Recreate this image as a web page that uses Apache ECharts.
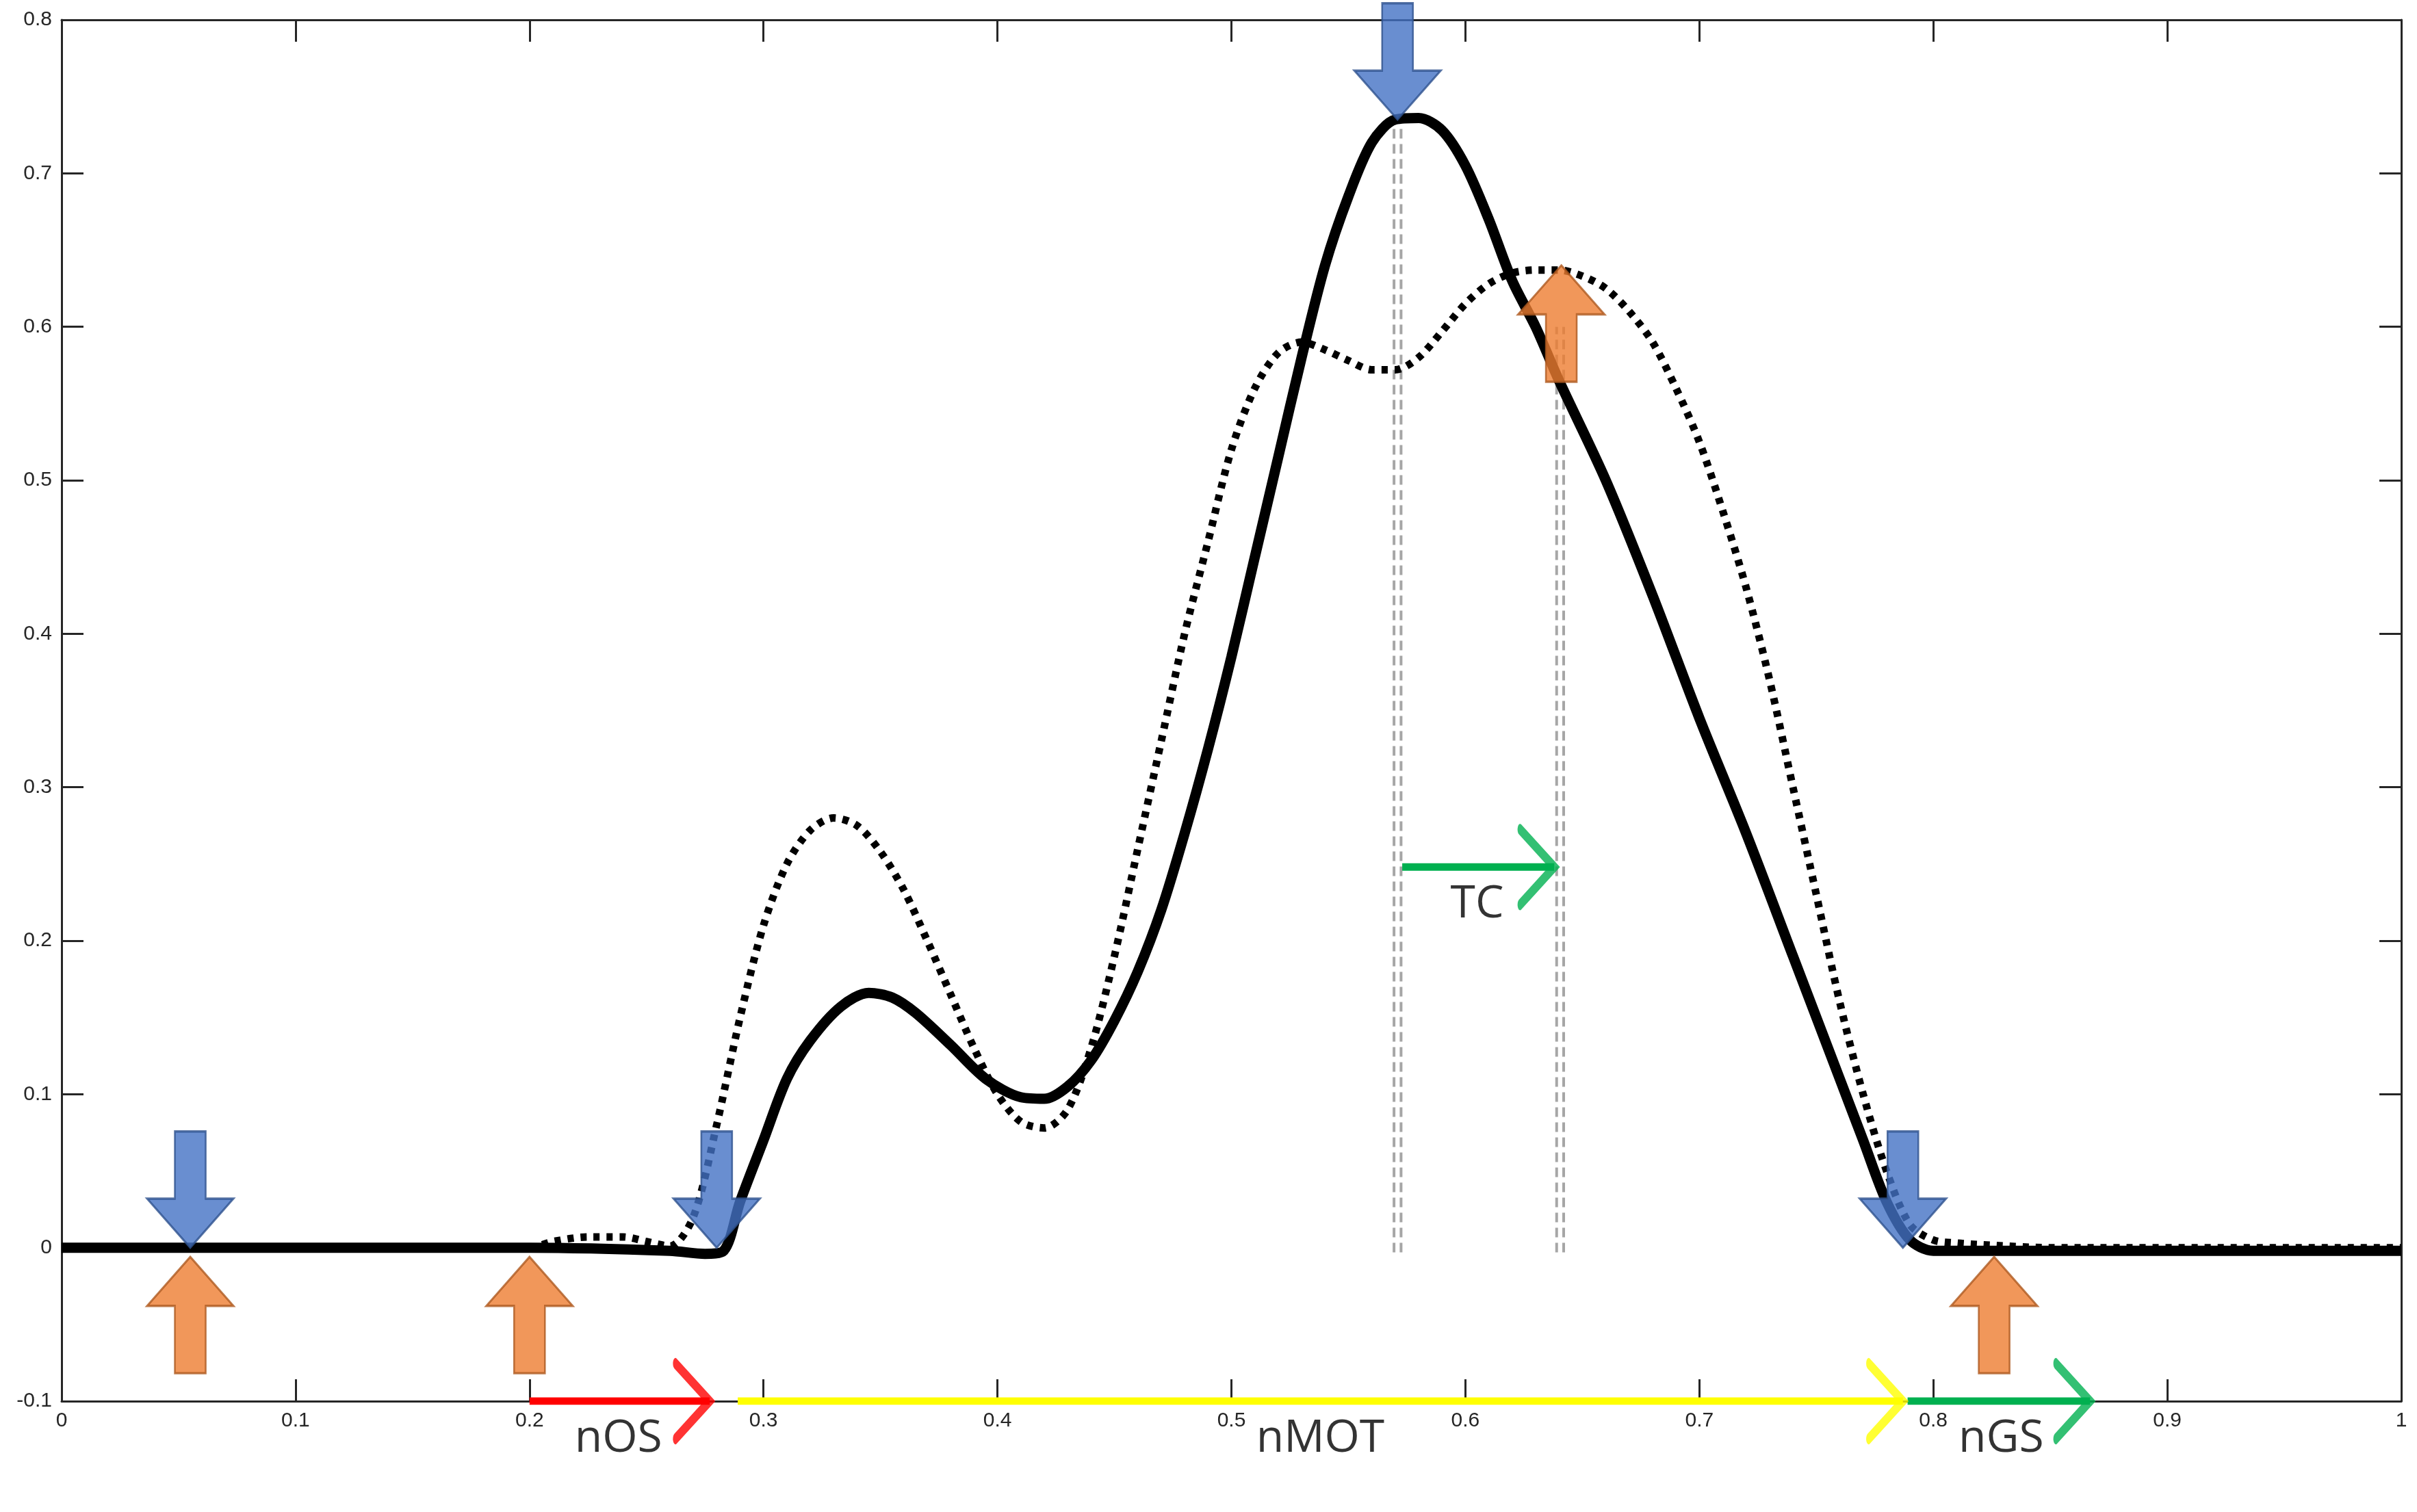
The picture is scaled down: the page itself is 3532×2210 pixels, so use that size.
<!DOCTYPE html>
<html><head><meta charset="utf-8">
<script src="https://cdn.jsdelivr.net/npm/echarts@6/dist/echarts.min.js"></script>
<style>html,body{margin:0;background:#fff}#c{width:3532px;height:2210px}</style>
</head><body><div id="c"></div>
<script>
// solid curve
const solidX = [0, 0.2, 0.26, 0.275, 0.283, 0.29, 0.3, 0.31, 0.32, 0.333, 0.345, 0.355, 0.365, 0.38, 0.395, 0.41, 0.42, 0.43, 0.44, 0.45, 0.46, 0.47, 0.48, 0.49, 0.5, 0.51, 0.52, 0.53, 0.54, 0.55, 0.56, 0.57, 0.58, 0.59, 0.6, 0.61, 0.62, 0.63, 0.64, 0.66, 0.68, 0.7, 0.72, 0.74, 0.76, 0.77, 0.78, 0.79, 0.8, 1];
const solidY = [0, 0, -0.002, -0.004, -0.002, 0.03, 0.07, 0.11, 0.135, 0.157, 0.166, 0.163, 0.153, 0.132, 0.11, 0.098, 0.097, 0.105, 0.122, 0.148, 0.18, 0.22, 0.27, 0.325, 0.385, 0.45, 0.515, 0.58, 0.64, 0.685, 0.72, 0.735, 0.736, 0.728, 0.705, 0.67, 0.63, 0.6, 0.565, 0.5, 0.425, 0.345, 0.27, 0.19, 0.11, 0.07, 0.03, 0.005, -0.002, -0.002];
// dotted curve
const dotX = [0, 0.2, 0.21, 0.225, 0.24, 0.25, 0.26, 0.27, 0.28, 0.29, 0.3, 0.31, 0.32, 0.33, 0.34, 0.35, 0.36, 0.37, 0.38, 0.39, 0.4, 0.41, 0.42, 0.43, 0.44, 0.45, 0.46, 0.47, 0.48, 0.49, 0.5, 0.51, 0.52, 0.53, 0.54, 0.55, 0.56, 0.57, 0.58, 0.59, 0.6, 0.61, 0.62, 0.63, 0.64, 0.65, 0.66, 0.67, 0.68, 0.69, 0.7, 0.71, 0.72, 0.73, 0.74, 0.75, 0.76, 0.77, 0.78, 0.79, 0.8, 0.81, 0.82, 0.85, 1];
const dotY = [0, 0, 0.004, 0.007, 0.007, 0.004, 0.001, 0.02, 0.08, 0.15, 0.21, 0.25, 0.272, 0.28, 0.275, 0.258, 0.233, 0.2, 0.165, 0.13, 0.1, 0.082, 0.078, 0.09, 0.13, 0.19, 0.26, 0.33, 0.4, 0.46, 0.52, 0.56, 0.583, 0.59, 0.585, 0.578, 0.572, 0.572, 0.58, 0.597, 0.615, 0.628, 0.635, 0.637, 0.637, 0.633, 0.625, 0.61, 0.59, 0.56, 0.525, 0.48, 0.43, 0.37, 0.3, 0.23, 0.16, 0.1, 0.05, 0.015, 0.005, 0.003, 0.002, 0, 0];
// marker positions
const blueDown = [[0.055, 0], [0.28, 0], [0.571, 0.735], [0.787, 0]];
const orangeUp = [[0.055, -0.006], [0.2, -0.006], [0.641, 0.64], [0.826, -0.006]];
const dashLines = [[0.5695, 0.735], [0.5725, 0.735], [0.639, 0.6], [0.642, 0.6]];
const spans = [
  { from: 0.2, to: 0.277, y: -0.1, color: '#ff0000' },
  { from: 0.289, to: 0.787, y: -0.1, color: '#ffff00' },
  { from: 0.789, to: 0.867, y: -0.1, color: '#00b050' },
  { from: 0.573, to: 0.638, y: 0.248, color: '#00b050' }
];
const labels = [
  { name: 'nOS', x: 0.238, y: -0.1 },
  { name: 'nMOT', x: 0.538, y: -0.1 },
  { name: 'nGS', x: 0.829, y: -0.1 },
  { name: 'TC', x: 0.605, y: 0.248 }
];

const zip = (xs, ys) => xs.map((x, i) => [x, ys[i]]);
const arrowDown = 'path://M18,0 L38,0 L38,44 L56,44 L28,76 L0,44 L18,44 Z';
const arrowUp = 'path://M28,0 L56,32 L38,32 L38,76 L18,76 L18,32 L0,32 Z';
const chevron = 'path://M0,0 L10,10 L0,20';

const series = [];
dashLines.forEach(d => series.push({
  type: 'line', data: [[d[0], -0.003], [d[0], d[1]]], symbol: 'none', silent: true,
  lineStyle: { color: '#a6a6a6', width: 4, type: [14, 8] }, z: 1
}));
series.push({ type: 'line', data: zip(dotX, dotY), symbol: 'none', smooth: 0.3,
  lineStyle: { color: '#000', width: 11, type: [9, 10], cap: 'butt' }, z: 2 });
series.push({ type: 'line', data: zip(solidX, solidY), symbol: 'none', smooth: 0.3,
  lineStyle: { color: '#000', width: 15 }, z: 3 });
spans.forEach(s => {
  series.push({ type: 'line', data: [[s.from, s.y], [s.to, s.y]], symbol: 'none',
    lineStyle: { color: s.color, width: 11 }, z: 4 });
  series.push({ type: 'scatter', data: [[s.to, s.y]], symbol: chevron, symbolSize: [50, 110],
    symbolOffset: [-25, 0], itemStyle: { color: 'none', borderColor: s.color, borderWidth: 11, borderCap: 'round' }, z: 4, clip: false });
});
series.push({ type: 'scatter', data: blueDown, symbol: arrowDown, symbolSize: [126, 170],
  symbolOffset: [0, -85], itemStyle: { color: '#4472c4', borderColor: '#2f528f', borderWidth: 3 }, z: 5 });
series.push({ type: 'scatter', data: orangeUp, symbol: arrowUp, symbolSize: [126, 170],
  symbolOffset: [0, 85], itemStyle: { color: '#ed7d31', borderColor: '#ae5a21', borderWidth: 3 }, z: 5 });
series.push({ type: 'scatter', data: labels.map(l => ({ name: l.name, value: [l.x, l.y] })),
  symbolSize: 0, clip: false, z: 6,
  label: { show: true, position: 'bottom', distance: 22, formatter: p => p.name,
    fontFamily: 'Open Sans', fontSize: 66, color: '#000' } });

const axisCommon = {
  type: 'value', splitLine: { show: false },
  axisLine: { show: true, onZero: false, lineStyle: { color: '#262626', width: 3 } },
  axisTick: { show: true, inside: true, length: 32, lineStyle: { color: '#262626', width: 3 } }
};
const chart = echarts.init(document.getElementById('c'));
chart.setOption({
  animation: false,
  grid: { left: 90, right: 23, top: 29, bottom: 162 },
  xAxis: [
    Object.assign({}, axisCommon, { min: 0, max: 1, interval: 0.1,
      axisLabel: { fontFamily: 'Liberation Sans', fontSize: 30, color: '#262626', margin: 14 } }),
    Object.assign({}, axisCommon, { position: 'top', min: 0, max: 1, interval: 0.1, axisLabel: { show: false } })
  ],
  yAxis: [
    Object.assign({}, axisCommon, { min: -0.1, max: 0.8, interval: 0.1,
      axisLabel: { fontFamily: 'Liberation Sans', fontSize: 30, color: '#262626', margin: 14,
        formatter: v => (Math.round(v * 10) / 10).toString() } }),
    Object.assign({}, axisCommon, { position: 'right', min: -0.1, max: 0.8, interval: 0.1, axisLabel: { show: false } })
  ],
  series: series
});
</script></body></html>
